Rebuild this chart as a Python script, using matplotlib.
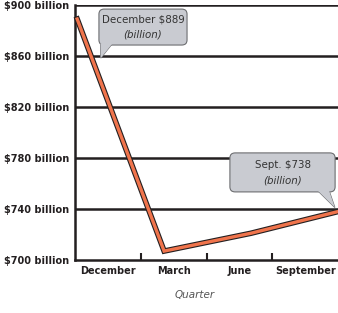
import matplotlib
matplotlib.use('Agg')
import matplotlib.pyplot as plt
import matplotlib.patheffects as pe
from matplotlib.patches import FancyBboxPatch, Polygon

quarters = ['December', 'March', 'June', 'September']
values = [889, 707, 721, 738]
yticks = [700, 740, 780, 820, 860, 900]
ylabels = ['$%d billion' % v for v in yticks]

dark = '#231f20'
bubble = '#c9cbd1'
bubble_edge = '#6d6e71'

fig = plt.figure(figsize=(3.38, 3.13), dpi=100)
ax = fig.add_axes([75/338, 53/313, 263/338, 255/313])

# line
ax.plot(range(len(values)), values, color='#f0744c', lw=2.4, solid_joinstyle='miter',
        path_effects=[pe.Stroke(linewidth=4.0, foreground=dark), pe.Normal()],
        zorder=5, clip_on=False)
ax.set_xlim(-0.025, 3.0)
ax.set_ylim(700, 900)

ax.set_yticks(yticks)
ax.set_yticklabels(ylabels, fontsize=7, fontweight='bold', color=dark,
                   family=['Liberation Sans Narrow', 'DejaVu Sans'])
ax.tick_params(axis='y', length=0, pad=4)
for v in yticks[1:]:
    ax.axhline(v, color=dark, lw=1.8, zorder=1)
ax.set_xticks([])

for s in ['left', 'bottom']:
    ax.spines[s].set_color(dark)
    ax.spines[s].set_linewidth(1.8)
for s in ['right', 'top']:
    ax.spines[s].set_visible(False)

# category axis
cx = ax.twiny()
cx.set_xlim(0, len(quarters))
cx.xaxis.set_ticks_position('bottom')
cx.set_xticks([i + 0.5 for i in range(len(quarters))])
cx.set_xticklabels(quarters, fontsize=7, fontweight='bold', color=dark,
                   family=['Liberation Sans Narrow', 'DejaVu Sans'])
cx.set_xticks([1, 2, 3], minor=True)
cx.tick_params(axis='x', which='major', length=0, pad=4)
cx.tick_params(axis='x', which='minor', direction='in', length=5, width=1.5, color=dark)
for s in cx.spines.values():
    s.set_visible(False)

fig.text(195/338, 18/313, 'Quarter', fontsize=7.5, style='italic', color='#555555', ha='center', va='center')

# callouts
def callout(x0, y0, x1, y1, tail, line1, line2):
    t = ax.transAxes
    ax.add_patch(Polygon(tail, closed=True, transform=t, fc=bubble, ec=bubble_edge, lw=0.8,
                         zorder=6, clip_on=False))
    ax.add_patch(FancyBboxPatch((x0, y0), x1 - x0, y1 - y0, boxstyle='round,pad=0,rounding_size=0.02',
                                transform=t, fc=bubble, ec=bubble_edge, lw=0.8, zorder=7, clip_on=False))
    ax.add_patch(Polygon(tail, closed=True, transform=t, fc=bubble, ec='none', zorder=8, clip_on=False))
    xm = (x0 + x1) / 2
    h = y1 - y0
    ax.text(xm, y1 - h * 0.3, line1, transform=t, fontsize=7.4, color='#333333',
            ha='center', va='center', zorder=9)
    ax.text(xm, y0 + h * 0.28, line2, transform=t, fontsize=7.4, style='italic', color='#333333',
            ha='center', va='center', zorder=9)

callout(0.091, 0.843, 0.426, 0.984,
        [(0.097, 0.850), (0.143, 0.850), (0.098, 0.792)],
        'December $889', '(billion)')
callout(0.589, 0.267, 0.989, 0.42,
        [(0.92, 0.275), (0.965, 0.275), (0.988, 0.206)],
        'Sept. $738', '(billion)')

fig.savefig('out.png', dpi=100)
